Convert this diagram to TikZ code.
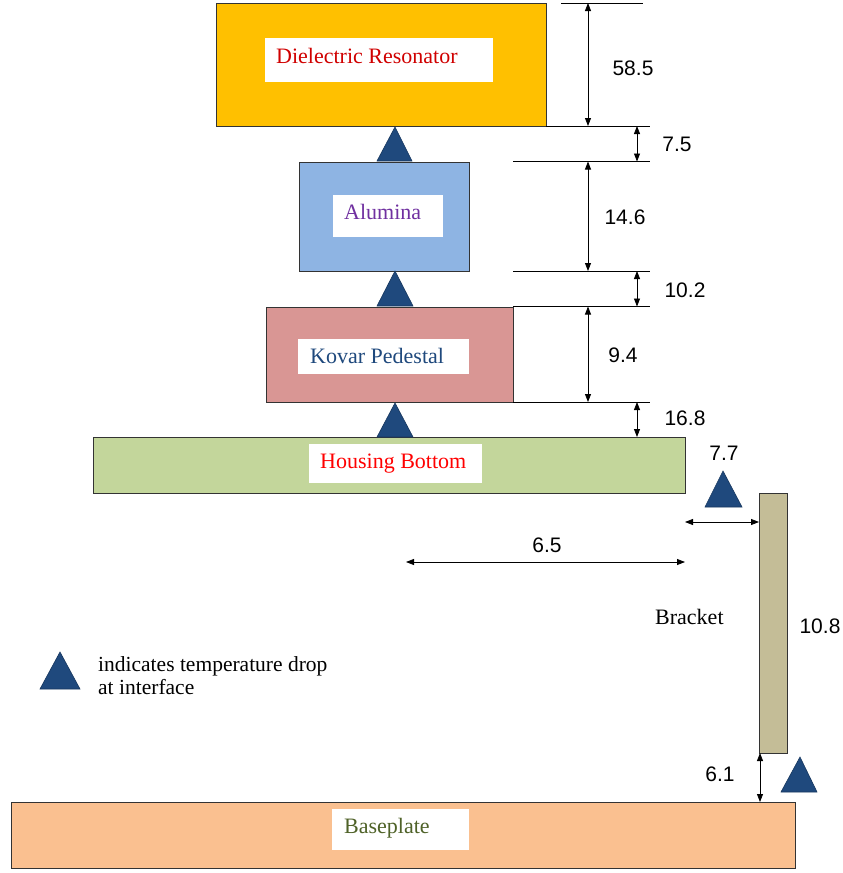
\documentclass[tikz,border=0pt]{standalone}
\usepackage{fontspec}
\setmainfont{Liberation Serif}
\newfontfamily\arialf{Liberation Sans}
\usetikzlibrary{arrows.meta}
\definecolor{drfill}{HTML}{FFC000}
\definecolor{alfill}{HTML}{8EB4E3}
\definecolor{kvfill}{HTML}{D99694}
\definecolor{hbfill}{HTML}{C3D69B}
\definecolor{brfill}{HTML}{C4BD97}
\definecolor{bpfill}{HTML}{FAC090}
\definecolor{dropc}{HTML}{1F497D}
\definecolor{droped}{HTML}{17375E}
\definecolor{drtxt}{HTML}{D00000}
\definecolor{altxt}{HTML}{7030A0}
\definecolor{kvtxt}{HTML}{1F497D}
\definecolor{hbtxt}{HTML}{FF0000}
\definecolor{bptxt}{HTML}{4F6228}
\begin{document}
\begin{tikzpicture}[x=1pt,y=-1pt,
  part/.style={draw=black!80, line width=1pt, anchor=north west, inner sep=0pt, outer sep=0pt},
  lblbox/.style={fill=white, anchor=north west, inner sep=0pt, outer sep=0pt},
  txt/.style={font=\fontsize{22}{24}\selectfont, anchor=base west, inner sep=0pt},
  dimtxt/.style={font=\arialf\fontsize{21}{23}\selectfont, inner sep=0pt, anchor=center},
  ext/.style={line width=0.8pt, black},
  dimarrow/.style={line width=0.8pt, black, {Triangle[length=8pt,width=6pt]}-{Triangle[length=8pt,width=6pt]}},
  droptri/.style={fill=dropc, draw=droped, line width=0.6pt}
]
\useasboundingbox (0,0) rectangle (843,873);

% parts
\node[part, fill=drfill, minimum width=330, minimum height=123] (dr) at (216,3) {};
\node[part, fill=alfill, minimum width=170, minimum height=109] (al) at (299,162) {};
\node[part, fill=kvfill, minimum width=247, minimum height=95] (kv) at (266,307) {};
\node[part, fill=hbfill, minimum width=592, minimum height=56] (hb) at (93,437) {};
\node[part, fill=brfill, minimum width=28, minimum height=260] (br) at (759,493) {};
\node[part, fill=bpfill, minimum width=784, minimum height=66] (bp) at (11,802) {};

% white label boxes
\node[lblbox, minimum width=228, minimum height=44] (drl) at (265,38) {};
\node[lblbox, minimum width=110, minimum height=42] (all) at (333,195) {};
\node[lblbox, minimum width=171, minimum height=35] (kvl) at (298,339) {};
\node[lblbox, minimum width=173, minimum height=39] (hbl) at (309,444) {};
\node[lblbox, minimum width=137, minimum height=41] (bpl) at (332,809) {};

% texts
\node[txt, text=drtxt] (drt) at (276,63) {Dielectric Resonator};
\node[txt, text=altxt] (alt) at (344,219.5) {Alumina};
\node[txt, text=kvtxt] (kvt) at (310,363) {Kovar Pedestal};
\node[txt, text=hbtxt] (hbt) at (320,468) {Housing Bottom};
\node[txt, text=bptxt] (bpt) at (344,833) {Baseplate};
\node[txt, text=black] (brt) at (655,624) {Bracket};
\node[txt, text=black, align=left, font=\fontsize{21.5}{23}\selectfont] (leg) at (98,694) {indicates temperature drop\\at interface};

% temperature-drop triangles
\fill[droptri] (377,161) -- (395,127) -- (412,161) -- cycle;
\fill[droptri] (377,306) -- (395,271) -- (413,306) -- cycle;
\fill[droptri] (377,437) -- (395,403) -- (413,437) -- cycle;
\fill[droptri] (705,507) -- (723,471) -- (742,507) -- cycle;
\fill[droptri] (781,792) -- (800,757) -- (817,792) -- cycle;
\fill[droptri] (40,689) -- (60,652) -- (80,689) -- cycle;

% extension lines
\coordinate (e0a) at (561,3);   \coordinate (e0b) at (643,3);
\coordinate (e1a) at (546,126); \coordinate (e1b) at (650,126);
\coordinate (e2a) at (513,161.5); \coordinate (e2b) at (650,161.5);
\coordinate (e3a) at (513,271); \coordinate (e3b) at (650,271);
\coordinate (e4a) at (513,306.5); \coordinate (e4b) at (650,306.5);
\coordinate (e5a) at (513,402); \coordinate (e5b) at (650,402);
\draw[ext] (e0a) -- (e0b);
\draw[ext] (e1a) -- (e1b);
\draw[ext] (e2a) -- (e2b);
\draw[ext] (e3a) -- (e3b);
\draw[ext] (e4a) -- (e4b);
\draw[ext] (e5a) -- (e5b);

% dimension arrows
\coordinate (a1t) at (588,3);     \coordinate (a1b) at (588,126);
\coordinate (a2t) at (637,126);   \coordinate (a2b) at (637,161.5);
\coordinate (a3t) at (588,161.5); \coordinate (a3b) at (588,271);
\coordinate (a4t) at (637,271);   \coordinate (a4b) at (637,306.5);
\coordinate (a5t) at (588,306.5); \coordinate (a5b) at (588,402);
\coordinate (a6t) at (637,402);   \coordinate (a6b) at (637,437);
\coordinate (a7l) at (685,522);   \coordinate (a7r) at (759,522);
\coordinate (a8l) at (406,562);   \coordinate (a8r) at (685,562);
\coordinate (a9t) at (760,753);   \coordinate (a9b) at (760,802);
\draw[dimarrow] (a1t) -- (a1b);
\draw[dimarrow] (a2t) -- (a2b);
\draw[dimarrow] (a3t) -- (a3b);
\draw[dimarrow] (a4t) -- (a4b);
\draw[dimarrow] (a5t) -- (a5b);
\draw[dimarrow] (a6t) -- (a6b);
\draw[dimarrow] (a7l) -- (a7r);
\draw[dimarrow] (a8l) -- (a8r);
\draw[dimarrow] (a9t) -- (a9b);

% dimension values
\node[dimtxt] (v1) at (633,68) {58.5};
\node[dimtxt] (v2) at (677,144) {7.5};
\node[dimtxt] (v3) at (625,217) {14.6};
\node[dimtxt] (v4) at (685,290) {10.2};
\node[dimtxt] (v5) at (623,355) {9.4};
\node[dimtxt] (v6) at (685,418) {16.8};
\node[dimtxt] (v7) at (724,453) {7.7};
\node[dimtxt] (v8) at (547,545) {6.5};
\node[dimtxt] (v9) at (820,626) {10.8};
\node[dimtxt] (v10) at (720,774) {6.1};
\end{tikzpicture}
\end{document}
